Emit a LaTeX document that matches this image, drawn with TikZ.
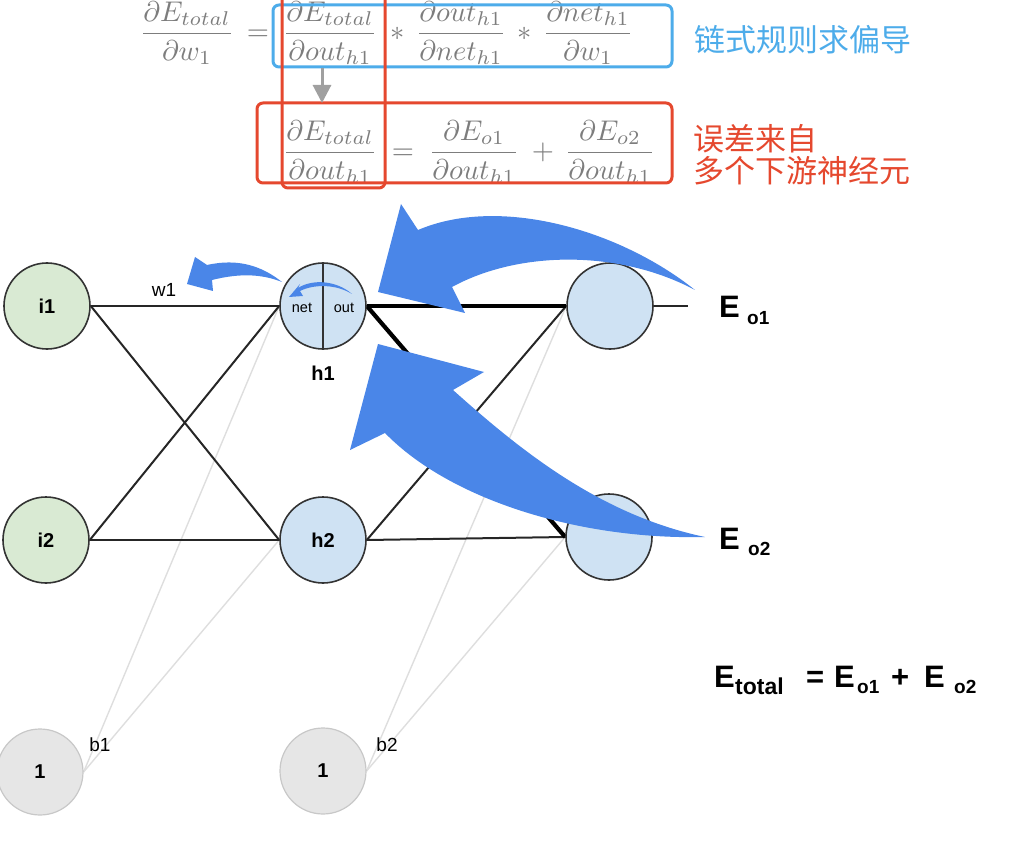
\documentclass[tikz,border=0pt]{standalone}
\usepackage[no-math]{fontspec}
\setmainfont{Liberation Sans}
\newfontfamily\cjk{Noto Sans CJK SC}
\usepackage{graphicx}
\usetikzlibrary{arrows.meta,backgrounds}
\definecolor{nblue}{RGB}{74,134,232}
\definecolor{lblue}{RGB}{77,172,234}
\definecolor{rred}{RGB}{229,72,46}
\definecolor{ifill}{RGB}{217,234,211}
\definecolor{hfill}{RGB}{207,226,243}
\definecolor{bfill}{RGB}{230,230,230}
\definecolor{bline}{RGB}{200,200,200}
\definecolor{fgray}{RGB}{125,125,125}
\definecolor{agray}{RGB}{160,160,160}
\newcommand\fmath[1]{\scalebox{2.85}{$\displaystyle #1$}}
\tikzset{
  neuron/.style={circle, draw=black!80, line width=1.6pt, minimum size=86pt, inner sep=0pt, font=\fontsize{20}{24}\selectfont\bfseries},
  inode/.style={neuron, fill=ifill},
  hnode/.style={neuron, fill=hfill},
  bnode/.style={neuron, draw=bline, line width=1.2pt, fill=bfill},
  wire/.style={line width=2pt, draw=black!85},
  heavy/.style={line width=4.2pt, draw=black},
  faint/.style={line width=1.4pt, draw=black!13},
  lbl/.style={font=\fontsize{19}{22}\selectfont, inner sep=0pt},
  frm/.style={anchor=base, inner sep=0pt, text=fgray},
  box/.style={rounded corners=6pt, line width=3pt},
  cjktext/.style={anchor=west, inner sep=0pt, font=\cjk\fontsize{31}{36}\selectfont},
  elbl/.style={anchor=base west, inner sep=0pt, font=\bfseries\fontsize{31}{36}\selectfont},
  esub/.style={anchor=base west, inner sep=0pt, font=\bfseries\fontsize{19}{22}\selectfont},
}
\begin{document}
\begin{tikzpicture}[x=1pt,y=-1pt]
\useasboundingbox (0,0) rectangle (1020,842);
% neurons
\node[inode] (i1) at (47,306) {i1};
\node[inode] (i2) at (46,540) {i2};
\node[hnode] (h1) at (323,306) {};
\node[hnode] (h2) at (323,540) {h2};
\node[hnode] (o1) at (610,306) {};
\node[hnode] (o2) at (609,537) {};
\node[bnode] (b1) at (40,772) {1};
\node[bnode] (b2) at (323,771) {1};
\coordinate (o1r) at (688,306);
% connections
\begin{scope}[on background layer]
\draw[faint] (b1.east) -- (h1.west);
\draw[faint] (b1.east) -- (h2.west);
\draw[faint] (b2.east) -- (o1.west);
\draw[faint] (b2.east) -- (o2.west);
\draw[wire] (i1.east) -- (h1.west);
\draw[wire] (i1.east) -- (h2.west);
\draw[wire] (i2.east) -- (h1.west);
\draw[wire] (i2.east) -- (h2.west);
\draw[wire] (h2.east) -- (o1.west);
\draw[wire] (h2.east) -- (o2.west);
\draw[heavy] (h1.east) -- (o1.west);
\draw[heavy] (h1.east) -- (o2.west);
\draw[wire] (o1.east) -- (o1r);
\end{scope}
% h1 inner
\draw[line width=1.6pt, black!80] (h1.north) -- (h1.south);
\node[inner sep=0pt, font=\fontsize{14.5}{16}\selectfont] (net) at (302,308) {net};
\node[inner sep=0pt, font=\fontsize{14.5}{16}\selectfont] (out) at (344,308) {out};
\node[inner sep=0pt, font=\fontsize{20}{24}\selectfont\bfseries] (h1l) at (323,373) {h1};
\node[lbl] (w1) at (164,290) {w1};
\node[lbl] (b1l) at (100,745) {b1};
\node[lbl] (b2l) at (387,745) {b2};
% small arrows
\fill[nblue] (352,294) .. controls (336,280) and (312,279) .. (298,288) -- (300,284) -- (289,297) -- (303,296) -- (300,291) .. controls (314,284) and (336,284) .. (352,294) -- cycle;
\fill[nblue] (282,282) .. controls (262,266) and (238,258) .. (207,265) -- (195,257) -- (187,284) -- (213,291) -- (212,280) .. controls (240,273) and (262,274) .. (282,282) -- cycle;
% big arrows
\fill[nblue] (695,290) .. controls (620,230) and (500,195) .. (418,230) -- (401,204) -- (378,292) -- (465,313) -- (452,287) .. controls (520,250) and (620,250) .. (695,290) -- cycle;
\fill[nblue] (705,537) .. controls (600,515) and (520,450) .. (453,390) -- (484,372) -- (378,344) -- (350,450) -- (385,433) .. controls (450,500) and (580,540) .. (705,537) -- cycle;
% formulas
\node[frm] (fa) at (187,41) {\fmath{\frac{\partial E_{total}}{\partial w_1}}};
\node[frm] (fe) at (258,41) {\fmath{=}};
\node[frm] (fb) at (330,41) {\fmath{\frac{\partial E_{total}}{\partial out_{h1}}}};
\node[frm] (fs1) at (398,41) {\fmath{*}};
\node[frm] (fc) at (461,41) {\fmath{\frac{\partial out_{h1}}{\partial net_{h1}}}};
\node[frm] (fs2) at (525,41) {\fmath{*}};
\node[frm] (fd) at (588,41) {\fmath{\frac{\partial net_{h1}}{\partial w_1}}};
\node[frm] (ga) at (330,160) {\fmath{\frac{\partial E_{total}}{\partial out_{h1}}}};
\node[frm] (ge) at (403,160) {\fmath{=}};
\node[frm] (gb) at (474,160) {\fmath{\frac{\partial E_{o1}}{\partial out_{h1}}}};
\node[frm] (gp) at (543,160) {\fmath{+}};
\node[frm] (gc) at (610,160) {\fmath{\frac{\partial E_{o2}}{\partial out_{h1}}}};
% boxes
\draw[box, draw=lblue] (273,5) rectangle (672,67);
\draw[box, draw=rred] (257,103) rectangle (672,183);
\draw[box, draw=rred] (282,-10) rectangle (385,188);
\coordinate (ga1) at (322,68);
\coordinate (ga2) at (322,103);
\draw[draw=agray, line width=3pt, -{Triangle[length=18pt,width=18pt]}] (ga1) -- (ga2);
% chinese text
\node[cjktext, text=lblue] (t1) at (694,40) {链式规则求偏导};
\node[cjktext, text=rred] (t2) at (693,139) {误差来自};
\node[cjktext, text=rred] (t3) at (693,171) {多个下游神经元};
% E labels
\node[elbl] (e1) at (719,317) {E};
\node[esub] (e1s) at (747,324) {o1};
\node[elbl] (e2) at (719,549) {E};
\node[esub] (e2s) at (748,555) {o2};
\node[elbl] (et) at (714,687) {E};
\node[anchor=base west, inner sep=0pt, font=\bfseries\fontsize{23}{26}\selectfont] (ets) at (735,694) {total};
\node[elbl] (eq) at (806,687) {=};
\node[elbl] (ea) at (834,687) {E};
\node[esub] (eas) at (857,693) {o1};
\node[elbl] (pl) at (891,687) {+};
\node[elbl] (eb) at (924,687) {E};
\node[esub] (ebs) at (954,693) {o2};
\end{tikzpicture}
\end{document}
